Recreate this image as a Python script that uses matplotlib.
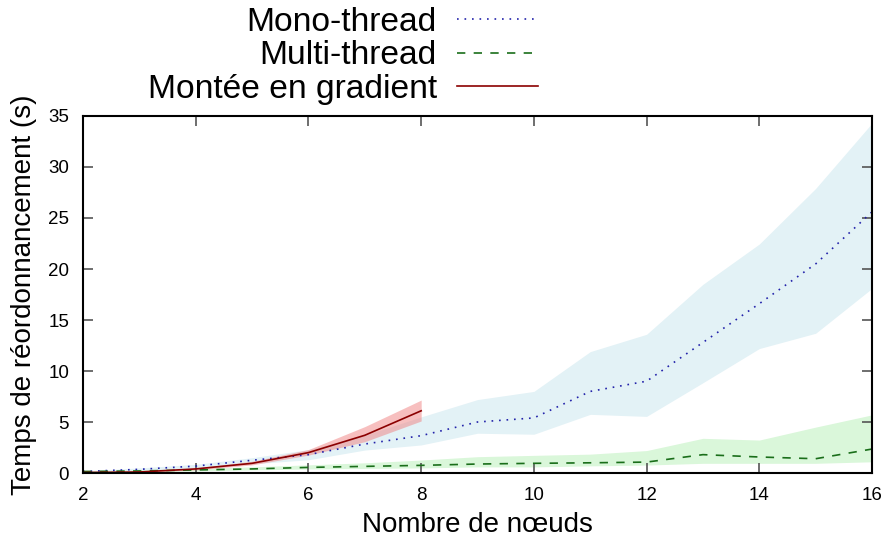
import matplotlib
matplotlib.use("Agg")
import matplotlib.pyplot as plt
import numpy as np

plt.rcParams['font.family'] = ['Liberation Sans', 'DejaVu Sans']

nodes = [2, 3, 4, 5, 6, 7, 8, 9, 10, 11, 12, 13, 14, 15, 16]
mono_mean = [0.15, 0.36, 0.68, 1.25, 1.8, 2.84, 3.66, 5.0, 5.4, 8.0, 9.0, 12.8, 16.6, 20.5, 25.6]
mono_low = [0.1, 0.25, 0.5, 0.9, 1.3, 2.25, 2.75, 3.9, 3.8, 5.75, 5.55, 8.85, 12.2, 13.7, 18.1]
mono_high = [0.2, 0.5, 0.85, 1.5, 2.3, 3.7, 5.5, 7.2, 8.0, 11.9, 13.6, 18.5, 22.45, 27.9, 34.3]

multi_mean = [0.15, 0.2, 0.3, 0.4, 0.55, 0.65, 0.75, 0.88, 0.95, 1.0, 1.07, 1.8, 1.57, 1.4, 2.35]
multi_low = [0.1, 0.15, 0.2, 0.3, 0.4, 0.45, 0.5, 0.6, 0.6, 0.7, 0.78, 0.95, 0.95, 0.95, 1.1]
multi_high = [0.2, 0.3, 0.45, 0.6, 0.8, 1.0, 1.27, 1.6, 1.73, 1.85, 2.2, 3.4, 3.23, 4.5, 5.7]

grad_nodes = [2, 3, 4, 5, 6, 7, 8]
grad_mean = [0.05, 0.1, 0.4, 0.95, 2.0, 3.7, 6.1]
grad_low = [0.03, 0.07, 0.3, 0.8, 1.76, 3.07, 5.1]
grad_high = [0.07, 0.15, 0.5, 1.15, 2.3, 4.55, 7.15]

fig = plt.figure(figsize=(8.91, 5.38), dpi=100)
ax = fig.add_axes([0.0932, 0.1208, 0.8855, 0.6636])

ax.fill_between(nodes, mono_low, mono_high, color='#e3f2f6', lw=0)
ax.fill_between(nodes, multi_low, multi_high, color='#daf7da', lw=0)
ax.fill_between(grad_nodes, grad_low, grad_high, color='#f08080', alpha=0.5, lw=0)

ax.plot(nodes, mono_mean, color='#2222aa', ls=(0, (1, 3.5)), lw=1.2, label='Mono-thread')
ax.plot(nodes, multi_mean, color='#1a6e1a', ls=(0, (5, 5)), lw=1.2, label='Multi-thread')
ax.plot(grad_nodes, grad_mean, color='#8b0000', ls='-', lw=1.2, label='Montée en gradient')

ax.set_xlim(2, 16)
ax.set_ylim(0, 35)
ax.set_xticks(range(2, 17, 2))
ax.set_yticks(range(0, 36, 5))
ax.tick_params(direction='in', length=7, width=1.2, color='#555555', top=True, right=True,
               labelsize=13.5)
ax.tick_params(axis='x', pad=10)
ax.tick_params(axis='y', pad=10)
for s in ax.spines.values():
    s.set_linewidth(1.5)
ax.set_xlabel('Nombre de nœuds', fontsize=20, labelpad=6)
ax.set_ylabel('Temps de réordonnancement (s)', fontsize=20, labelpad=8)

leg = fig.legend(loc='upper right', bbox_to_anchor=(0.6038, 0.987), frameon=False,
                 markerfirst=False, fontsize=24.2, handlelength=2.41, handletextpad=0.6,
                 labelspacing=0.07, borderpad=0, borderaxespad=0)

fig.savefig('out.png', dpi=100)
